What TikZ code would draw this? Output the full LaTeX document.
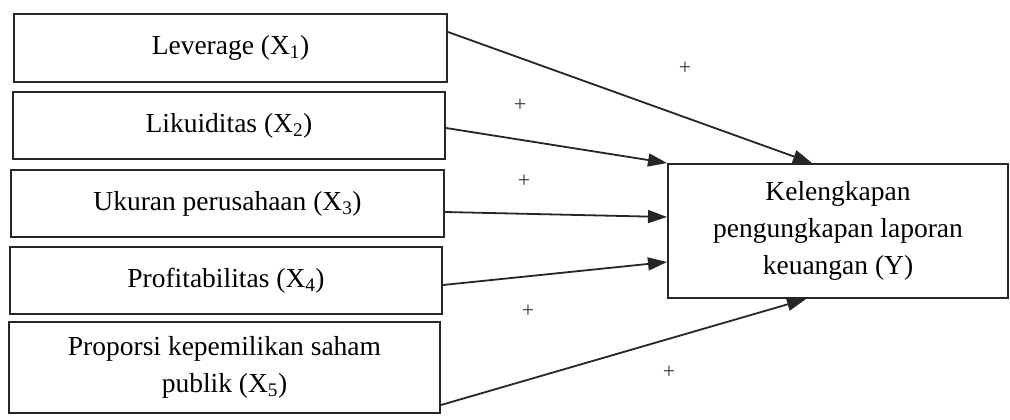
\documentclass[tikz,border=0pt]{standalone}
\usepackage{fontspec}
\setmainfont{Liberation Serif}
\usetikzlibrary{arrows.meta,calc}
\begin{document}
\begin{tikzpicture}[x=1pt,y=-1pt,
  box/.style={draw=black!85,line width=2pt,rectangle,align=center,inner sep=0pt,
    font=\fontsize{27.5}{37}\selectfont},
  conn/.style={draw=black!85,line width=1.8pt,-{Triangle[length=19pt,width=13pt]}},
  plus/.style={font=\fontsize{22}{22}\selectfont,inner sep=0pt,text=black!80}]
\useasboundingbox (0,0) rectangle (1010,420);
\fill[white] (0,0) rectangle (1010,420);
\node[box,minimum width=433pt,minimum height=68pt] (x1) at (230.5,48) {Leverage (X\textsubscript{1})};
\node[box,minimum width=432pt,minimum height=67pt] (x2) at (229,125.5) {Likuiditas (X\textsubscript{2})};
\node[box,minimum width=433pt,minimum height=67pt] (x3) at (227.5,203.5) {Ukuran perusahaan (X\textsubscript{3})};
\node[box,minimum width=432pt,minimum height=67pt] (x4) at (226,280.5) {Profitabilitas (X\textsubscript{4})};
\node[box,minimum width=431pt,minimum height=91pt] (x5) at (224.5,367.5) {Proporsi kepemilikan saham\\publik (X\textsubscript{5})};
\node[box,minimum width=340pt,minimum height=134pt] (y) at (838,231) {Kelengkapan\\pengungkapan laporan\\keuangan (Y)};
\coordinate (s1) at ($(x1.east)+(0,-16)$);
\coordinate (s2) at ($(x2.east)+(0,2.5)$);
\coordinate (s3) at ($(x3.east)+(0,8.5)$);
\coordinate (s4) at ($(x4.east)+(0,4.5)$);
\coordinate (s5) at ($(x5.east)+(0,37.5)$);
\coordinate (e1) at ($(y.north west)+(145,0)$);
\coordinate (e2) at (y.north west);
\coordinate (e3) at ($(y.west)+(0,-14)$);
\coordinate (e4) at ($(y.west)+(0,31)$);
\coordinate (e5) at ($(y.south west)+(139,0)$);
\draw[conn] (s1) -- (e1);
\draw[conn] (s2) -- (e2);
\draw[conn] (s3) -- (e3);
\draw[conn] (s4) -- (e4);
\draw[conn] (s5) -- (e5);
\node[plus] (p1) at (685,68) {+};
\node[plus] (p2) at (520,105) {+};
\node[plus] (p3) at (524,181) {+};
\node[plus] (p4) at (528,311) {+};
\node[plus] (p5) at (669,372) {+};
\end{tikzpicture}
\end{document}
